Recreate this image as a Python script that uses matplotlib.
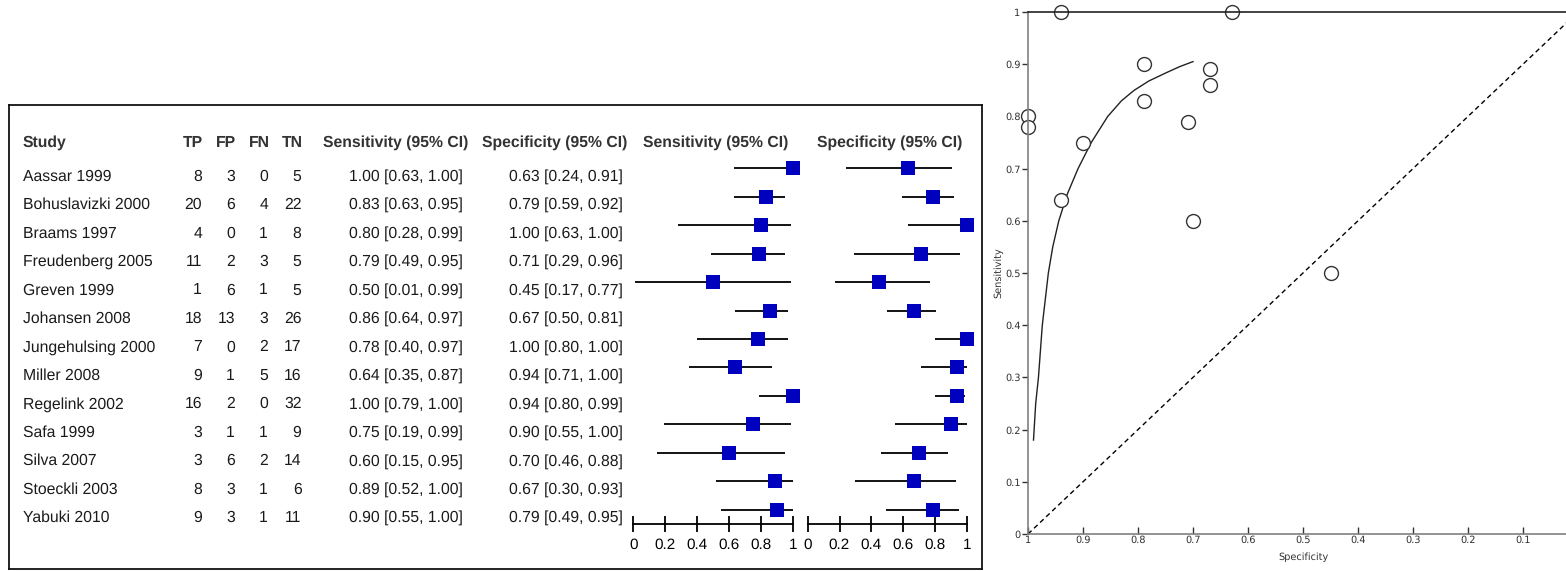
import numpy as np
import matplotlib
matplotlib.use("Agg")
import matplotlib.pyplot as plt

# === DATA ===
studies = ["Aassar 1999", "Bohuslavizki 2000", "Braams 1997", "Freudenberg 2005",
           "Greven 1999", "Johansen 2008", "Jungehulsing 2000", "Miller 2008",
           "Regelink 2002", "Safa 1999", "Silva 2007", "Stoeckli 2003", "Yabuki 2010"]
tp = [8, 20, 4, 11, 1, 18, 7, 9, 16, 3, 3, 8, 9]
fp = [3, 6, 0, 2, 6, 13, 0, 1, 2, 1, 6, 3, 3]
fn = [0, 4, 1, 3, 1, 3, 2, 5, 0, 1, 2, 1, 1]
tn = [5, 22, 8, 5, 5, 26, 17, 16, 32, 9, 14, 6, 11]

sens = [1.00, 0.83, 0.80, 0.79, 0.50, 0.86, 0.78, 0.64, 1.00, 0.75, 0.60, 0.89, 0.90]
sens_lo = [0.63, 0.63, 0.28, 0.49, 0.01, 0.64, 0.40, 0.35, 0.79, 0.19, 0.15, 0.52, 0.55]
sens_hi = [1.00, 0.95, 0.99, 0.95, 0.99, 0.97, 0.97, 0.87, 1.00, 0.99, 0.95, 1.00, 1.00]
spec = [0.63, 0.79, 1.00, 0.71, 0.45, 0.67, 1.00, 0.94, 0.94, 0.90, 0.70, 0.67, 0.79]
spec_lo = [0.24, 0.59, 0.63, 0.29, 0.17, 0.50, 0.80, 0.71, 0.80, 0.55, 0.46, 0.30, 0.49]
spec_hi = [0.91, 0.92, 1.00, 0.96, 0.77, 0.81, 1.00, 1.00, 0.99, 1.00, 0.88, 0.93, 0.95]

forest_ticks = [0, 0.2, 0.4, 0.6, 0.8, 1]
forest_ticklabels = ["0", "0.2", "0.4", "0.6", "0.8", "1"]

# SROC curve (specificity, sensitivity)
curve_spec = [0.990, 0.986, 0.981, 0.974, 0.963, 0.955, 0.944, 0.929, 0.909,
              0.885, 0.855, 0.830, 0.807, 0.780, 0.750, 0.725, 0.700]
curve_sens = [0.18, 0.25, 0.30, 0.40, 0.50, 0.55, 0.60, 0.65, 0.70,
              0.75, 0.80, 0.83, 0.85, 0.868, 0.883, 0.895, 0.905]

sroc_ticks = [0, 0.1, 0.2, 0.3, 0.4, 0.5, 0.6, 0.7, 0.8, 0.9, 1]
sroc_ticklabels = ["0", "0.1", "0.2", "0.3", "0.4", "0.5", "0.6", "0.7", "0.8", "0.9", "1"]

# === LAYOUT (pixels) ===
W, H = 1566, 571
plt.rcParams['font.family'] = ['Liberation Sans', 'DejaVu Sans']
plt.rcParams['text.hinting'] = 'none'
fig = plt.figure(figsize=(W / 100, H / 100), dpi=100)


def px_axes(x0, y0, x1, y1):
    # axes from pixel box (top-left origin)
    return fig.add_axes([x0 / W, 1 - y1 / H, (x1 - x0) / W, (y1 - y0) / H])


row0, row_h = 168.3, 28.45          # pixel y of first row's square, row spacing
text_off = 0.29                      # text sits a little lower than the squares
n = len(studies)

# === BOX + TABLE ===
bx0, by0, bx1, by1 = 9, 105, 982, 569
ax_t = px_axes(bx0, by0, bx1, by1)
ax_t.set_xlim(bx0, bx1)
ax_t.set_ylim((by1 - row0) / row_h, (by0 - row0) / row_h)
ax_t.set_xticks([])
ax_t.set_yticks([])
for s in ax_t.spines.values():
    s.set_linewidth(1.3)
    s.set_color('#111111')

txt_col = '#1a1a1a'
hdr_y = (142.7 - row0) / row_h
fs = 11.3
headers = [("Study", 23, 'left'), ("TP", 203, 'right'), ("FP", 236.5, 'right'),
           ("FN", 270, 'right'), ("TN", 303, 'right'),
           ("Sensitivity (95% CI)", 468, 'right'), ("Specificity (95% CI)", 627, 'right'),
           ("Sensitivity (95% CI)", 643, 'left'), ("Specificity (95% CI)", 817, 'left')]
for label, x, ha in headers:
    ax_t.text(x, hdr_y, label, ha=ha, va='center', fontsize=fs, fontweight='bold',
              color='#333333')

for i in range(n):
    y = i + text_off
    ax_t.text(23, y, studies[i], ha='left', va='center', fontsize=fs, color=txt_col)
    ax_t.text(202, y, str(tp[i]), ha='right', va='center', fontsize=fs, color=txt_col)
    ax_t.text(235, y, str(fp[i]), ha='right', va='center', fontsize=fs, color=txt_col)
    ax_t.text(268, y, str(fn[i]), ha='right', va='center', fontsize=fs, color=txt_col)
    ax_t.text(301.5, y, str(tn[i]), ha='right', va='center', fontsize=fs, color=txt_col)
    ax_t.text(463, y, f"{sens[i]:.2f} [{sens_lo[i]:.2f}, {sens_hi[i]:.2f}]",
              ha='right', va='center', fontsize=fs, color=txt_col)
    ax_t.text(623, y, f"{spec[i]:.2f} [{spec_lo[i]:.2f}, {spec_hi[i]:.2f}]",
              ha='right', va='center', fontsize=fs, color=txt_col)

# === FOREST PANELS ===
axis_y = 524
def forest(x0, x1, est, lo, hi):
    ax = px_axes(x0, row0 - row_h * 0.6, x1, axis_y)
    ax.set_xlim(0, 1)
    ax.set_ylim((axis_y - row0) / row_h, -0.6)
    rows = np.arange(n)
    ax.hlines(rows, lo, hi, color='black', lw=1.3, clip_on=False)
    ax.scatter(est, rows, marker='s', s=95, color='#0000BF', zorder=3,
               clip_on=False, linewidths=0)
    for k in ['top', 'left', 'right']:
        ax.spines[k].set_visible(False)
    ax.spines['bottom'].set_linewidth(1.3)
    ax.set_yticks([])
    ax.set_xticks(forest_ticks)
    ax.set_xticklabels(forest_ticklabels)
    ax.tick_params(axis='x', direction='inout', length=11.5, width=1.3,
                   labelsize=11, pad=4.5, colors='black')
    ax.patch.set_visible(False)
    return ax

forest(633.3, 792.7, sens, sens_lo, sens_hi)
forest(807.7, 966.7, spec, spec_lo, spec_hi)

# === SROC PLOT ===
ax_s = px_axes(1028, 12, W, 534)
ax_s.set_xlim(1, 1 - (W - 1028) / 550)
ax_s.set_ylim(0, 1)
ax_s.plot([1, 0], [0, 1], ls=(0, (3.5, 2.5)), color='black', lw=1)
ax_s.plot(curve_spec, curve_sens, color='#222222', lw=1)
ax_s.plot(spec, sens, 'o', ms=10, mfc='white', mec='#333333', mew=1, clip_on=False)

ax_s.spines['right'].set_visible(False)
ax_s.spines['top'].set_color('#222222')
ax_s.spines['left'].set_color('#808080')
ax_s.spines['bottom'].set_color('#808080')
for k in ['top', 'left', 'bottom']:
    ax_s.spines[k].set_linewidth(1.2)
ax_s.set_yticks(sroc_ticks)
ax_s.set_yticklabels(sroc_ticklabels, family='DejaVu Sans')
ax_s.set_xticks(sroc_ticks[1:])
ax_s.set_xticklabels(sroc_ticklabels[1:], family='DejaVu Sans')
ax_s.tick_params(axis='y', direction='out', length=4, width=1, color='#333333',
                 labelsize=7, labelcolor='#333333', pad=1.5)
ax_s.tick_params(axis='x', direction='in', length=5, width=1, color='#333333',
                 labelsize=7, labelcolor='#333333', pad=1)
ax_s.set_ylabel("Sensitivity", fontsize=7, color='#333333', labelpad=1,
                family='DejaVu Sans')
ax_s.set_xlabel("Specificity", fontsize=7, color='#333333', labelpad=1,
                family='DejaVu Sans')
ax_s.xaxis.set_label_coords((1303 - 1028) / (W - 1028), -0.036)
ax_s.patch.set_visible(False)

fig.savefig("out.png", dpi=100)
